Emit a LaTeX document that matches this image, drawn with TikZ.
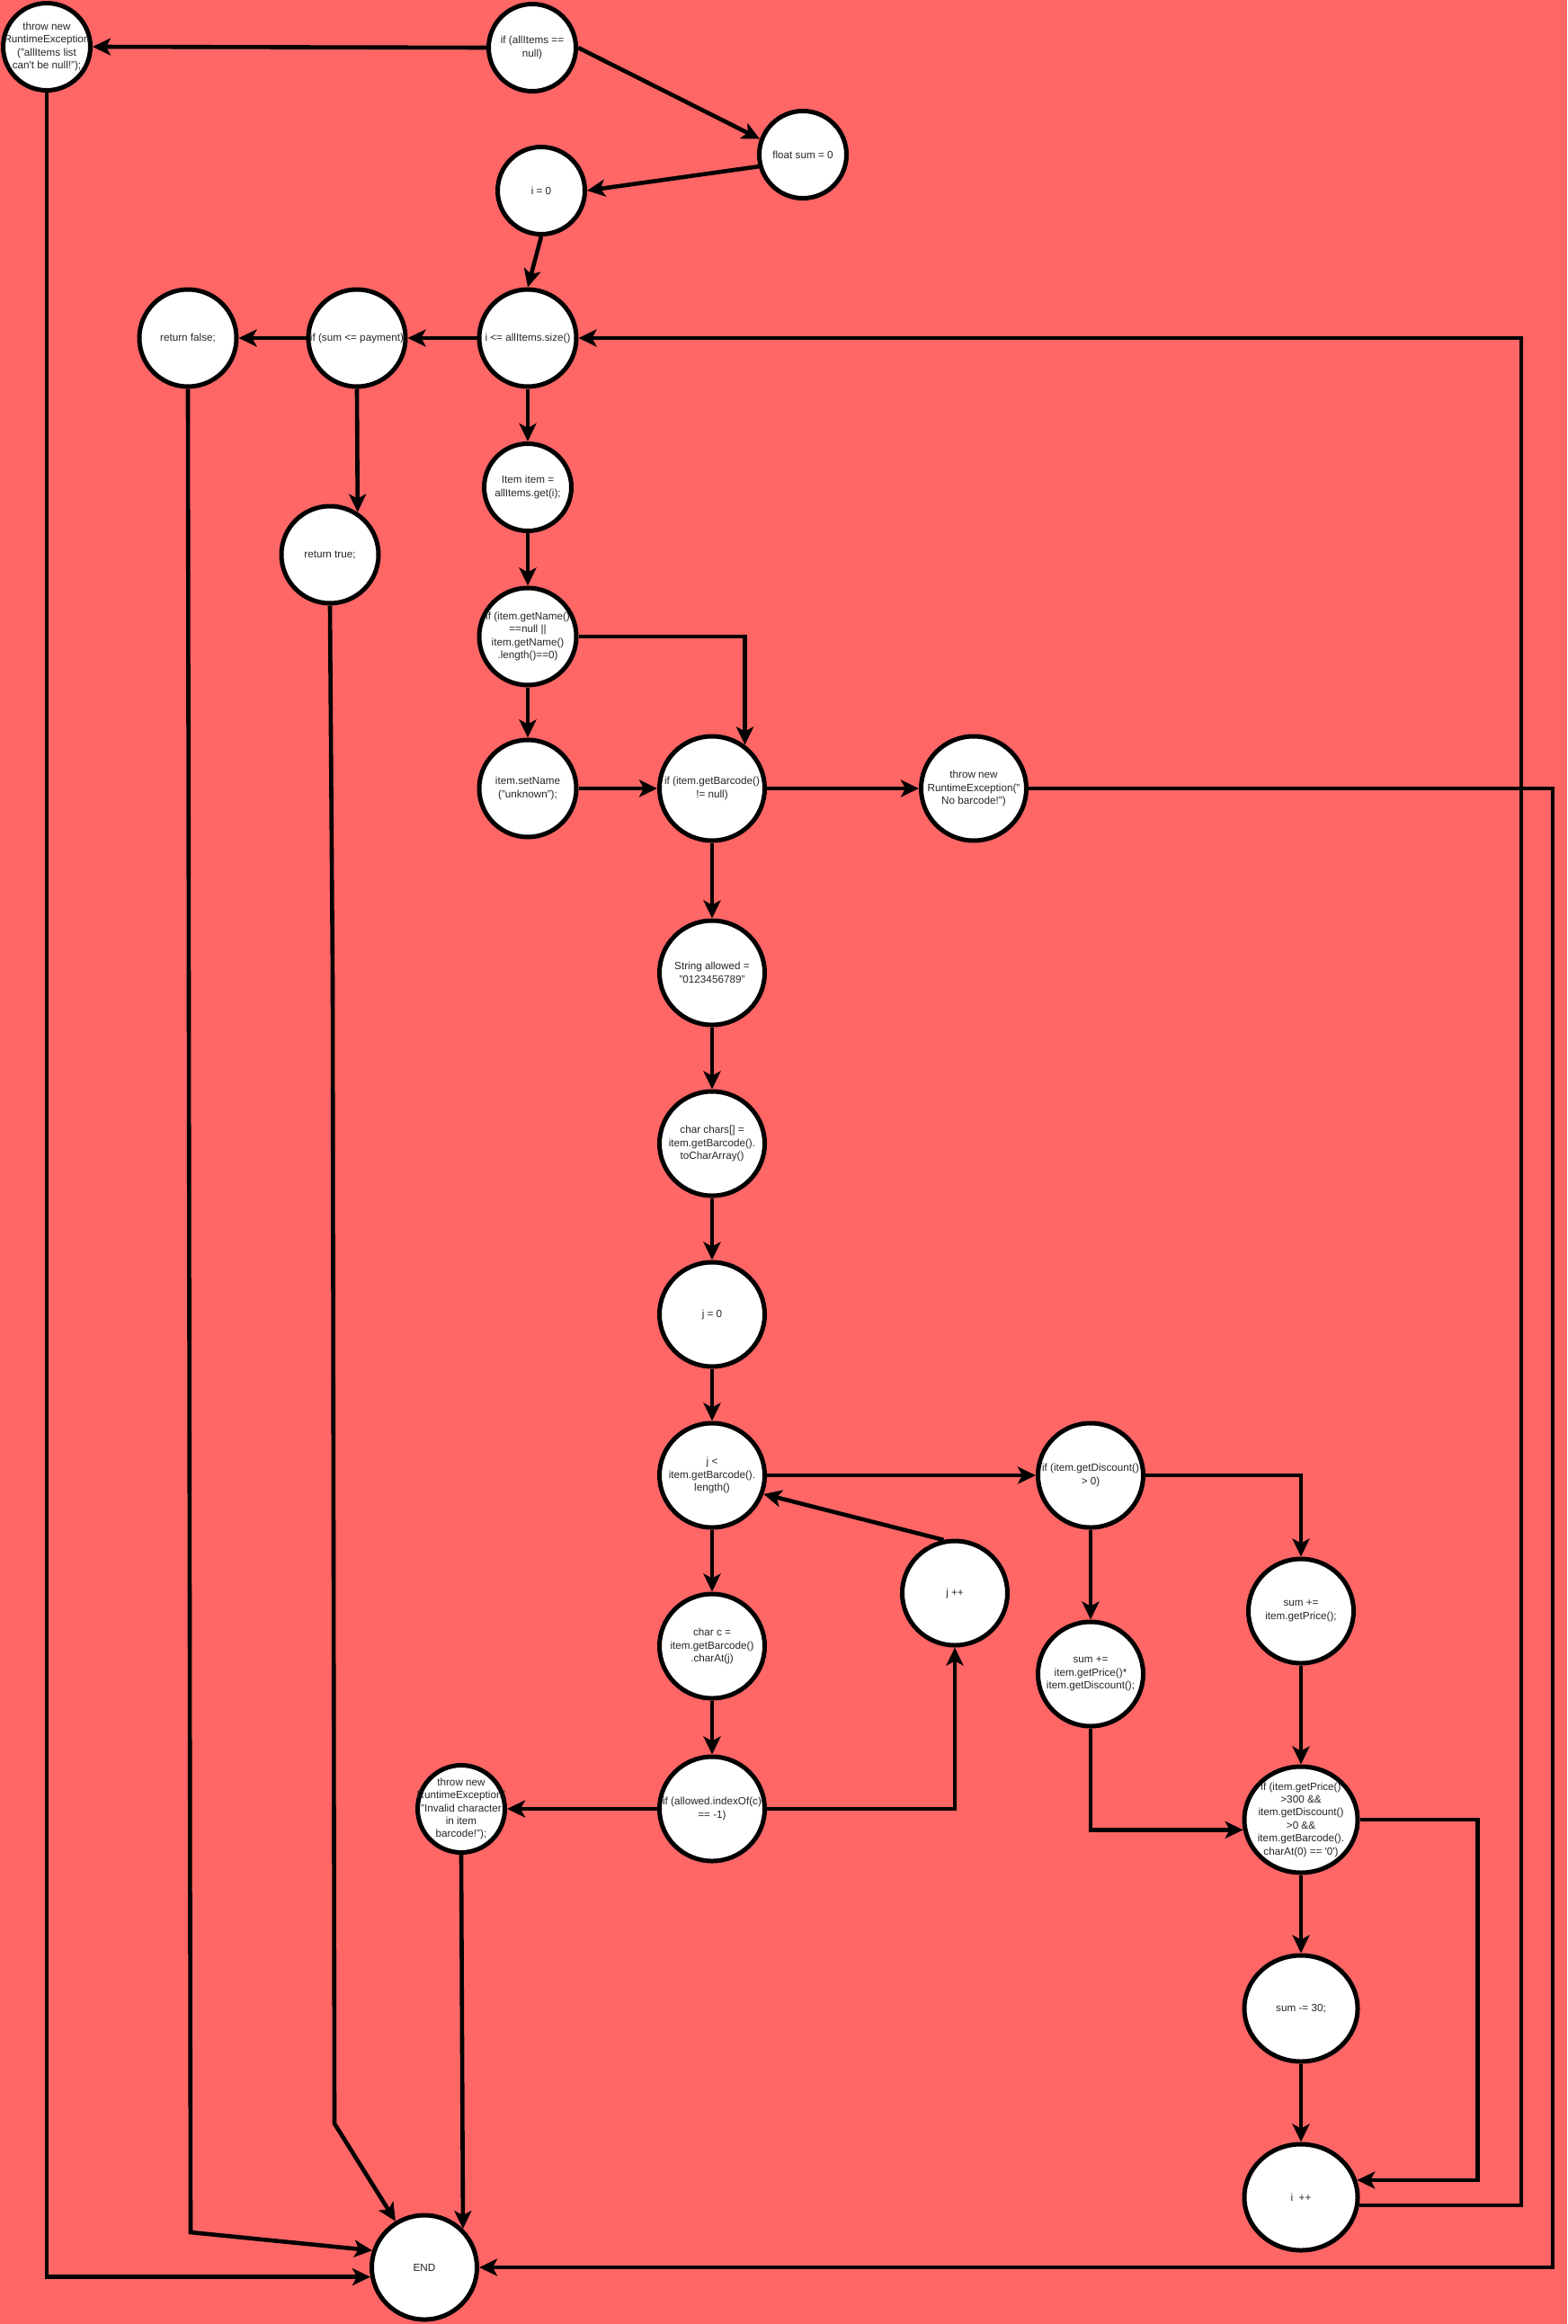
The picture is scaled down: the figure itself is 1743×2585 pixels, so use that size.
\documentclass[tikz,border=0pt]{standalone}
\usepackage{fontspec}
\setmainfont{Liberation Sans}
\usepackage{tikz}
\usetikzlibrary{shapes.geometric,arrows.meta}
\definecolor{bgred}{HTML}{FF6666}

\begin{document}
\begin{tikzpicture}[
    x=1pt, y=-1pt,
    state/.style={ellipse, draw, fill=white, line width=5pt, inner sep=-30pt, align=center, text=black!85, font=\fontsize{11.7}{14.4}\selectfont},
    sm/.style={state, minimum width=97pt, minimum height=97pt},
    md/.style={state, minimum width=108pt, minimum height=108pt},
    lg/.style={state, minimum width=117pt, minimum height=116pt},
    xl/.style={state, minimum width=126pt, minimum height=118pt},
    flow/.style={-{Stealth[length=20pt, width=19pt, inset=5pt]}, line width=4.6pt}
]
\useasboundingbox (0,0) rectangle (1743,2585);
\fill[bgred] (0,0) rectangle (1743,2585);

\node[sm] (throwNull) at (52,52) {throw new\\RuntimeException\\("allItems list\\can\textquotesingle t be null!");};
\node[sm] (ifNull) at (592,53) {if (allItems ==\\null)};
\node[sm] (sum0) at (893,172) {float sum = 0};
\node[sm] (i0) at (602,212) {i = 0};
\node[md] (loopI) at (587,376) {i <= allItems.size()};
\node[md] (ifSum) at (397,376) {if (sum <= payment)};
\node[md] (retFalse) at (209,376) {return false;};
\node[md] (retTrue) at (367,617) {return true;};
\node[sm] (getItem) at (587,542) {Item item =\\allItems.get(i);};
\node[md] (ifName) at (587,708) {if (item.getName()\\==null ||\\item.getName()\\.length()==0)};
\node[md] (setName) at (587,877) {item.setName\\("unknown");};
\node[lg] (ifBarcode) at (792,877) {if (item.getBarcode()\\!= null)};
\node[lg] (throwBarcode) at (1083,877) {throw new\\RuntimeException("\\No barcode!")};
\node[lg] (allowed) at (792,1082) {String allowed =\\"0123456789"};
\node[lg] (chars) at (792,1272) {char chars[] =\\item.getBarcode().\\toCharArray()};
\node[lg] (j0) at (792,1462) {j = 0};
\node[lg] (loopJ) at (792,1641) {j <\\item.getBarcode().\\length()};
\node[lg] (charC) at (792,1831) {char c =\\item.getBarcode()\\.charAt(j)};
\node[lg] (ifAllowed) at (792,2012) {if (allowed.indexOf(c)\\== -1)};
\node[sm] (throwInvalid) at (513,2012) {throw new\\RuntimeException(\\"Invalid character\\in item\\barcode!");};
\node[lg] (jpp) at (1062,1772) {j ++};
\node[lg] (ifDiscount) at (1213,1641) {if (item.getDiscount()\\> 0)};
\node[lg] (sumDisc) at (1213,1862) {sum +=\\item.getPrice()*\\item.getDiscount();};
\node[lg] (sumPrice) at (1447,1792) {sum +=\\item.getPrice();};
\node[xl] (ifPrice) at (1447,2024) {if (item.getPrice()\\>300 \&\&\\item.getDiscount()\\>0 \&\&\\item.getBarcode().\\charAt(0) == \textquotesingle 0\textquotesingle)};
\node[xl] (sum30) at (1447,2234) {sum -= 30;};
\node[xl] (ipp) at (1447,2444) {i\ \ ++};
\node[lg] (END) at (472,2522) {END};

\coordinate (loopR) at (1692,376);
\coordinate (exitR) at (1727,1700);
\coordinate (bendF) at (212,2483);
\coordinate (bendT1) at (370,1090);
\coordinate (bendT2) at (372,2362);

\draw[flow] (ifNull.west) -- (throwNull.east);
\draw[flow] (ifNull.east) -- (sum0.160);
\draw[flow] (sum0.195) -- (i0.east);
\draw[flow] (i0.south) -- (loopI.north);
\draw[flow] (loopI) -- (ifSum);
\draw[flow] (ifSum) -- (retFalse);
\draw[flow] (ifSum.south) -- (retTrue.57);
\draw[flow] (loopI) -- (getItem);
\draw[flow] (getItem) -- (ifName);
\draw[flow] (ifName) -- (setName);
\draw[flow] (ifName.east) -| (ifBarcode.53);
\draw[flow] (setName) -- (ifBarcode);
\draw[flow] (ifBarcode) -- (throwBarcode);
\draw[flow] (ifBarcode) -- (allowed);
\draw[flow] (allowed) -- (chars);
\draw[flow] (chars) -- (j0);
\draw[flow] (j0) -- (loopJ);
\draw[flow] (loopJ) -- (charC);
\draw[flow] (charC) -- (ifAllowed);
\draw[flow] (ifAllowed) -- (throwInvalid);
\draw[flow] (ifAllowed.east) -| (jpp.south);
\draw[flow] (jpp.102) -- (loopJ.-20);
\draw[flow] (loopJ) -- (ifDiscount);
\draw[flow] (ifDiscount) -- (sumDisc);
\draw[flow] (ifDiscount.east) -| (sumPrice.north);
\draw[flow] (sumDisc.south) |- (ifPrice.190);
\draw[flow] (sumPrice) -- (ifPrice);
\draw[flow] (ifPrice) -- (sum30);
\draw[flow] (sum30) -- (ipp);
\draw[flow] (ifPrice.east) -- ++(131,0) |- (ipp.17);
\draw[flow] (ipp.-8) -| (loopR) -- (loopI.east);
\draw[flow] (throwBarcode.east) -| (exitR) |- (END.east);
\draw[flow] (throwNull.south) |- (END.190);
\draw[flow] (retFalse.south) -- (bendF) -- (END.162);
\draw[flow] (retTrue.south) -- (bendT1) -- (bendT2) -- (END.122);
\draw[flow] (throwInvalid.south) -- (END.45);
\end{tikzpicture}
\end{document}
